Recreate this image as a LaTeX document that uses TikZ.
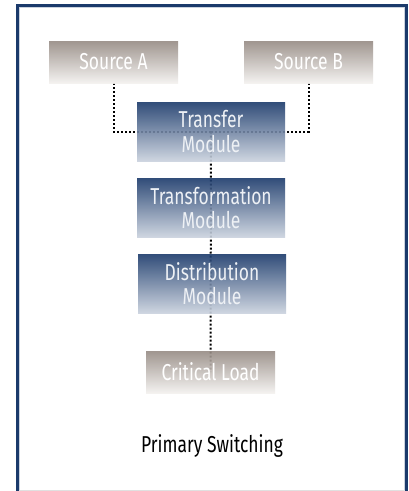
\documentclass[tikz,border=0pt]{standalone}
\usepackage{fontspec}
\setmainfont{Fira Sans}[FakeStretch=0.76]
\definecolor{navy}{HTML}{1B3A6B}
\definecolor{navylight}{HTML}{CAD2DE}
\definecolor{taupe}{HTML}{968B84}
\definecolor{taupelight}{HTML}{F3F1EF}
\definecolor{boxtext}{HTML}{EEF1F5}
\tikzset{
  bluebox/.style={rectangle, inner sep=0pt, minimum width=148pt, minimum height=59pt,
    top color=navy, bottom color=navylight, fill opacity=0.9, text opacity=1,
    text=boxtext, align=center, font=\fontsize{23}{24.5}\selectfont},
  graybox/.style={rectangle, inner sep=0pt, minimum width=129pt, minimum height=42pt,
    top color=taupe, bottom color=taupelight, fill opacity=0.9, text opacity=1,
    text=white, align=center, font=\fontsize{23}{24.5}\selectfont},
  link/.style={draw=black, line width=2pt, dash pattern=on 2pt off 2pt},
  frameline/.style={draw=navy, line width=3pt}
}
\begin{document}
\begin{tikzpicture}[x=1pt,y=-1pt]
\useasboundingbox (0,0) rectangle (409,491);
\fill[white] (0,0) rectangle (409,491);
% frame
\draw[frameline] (17.5,492) -- (17.5,5.5) -- (406.5,5.5) -- (406.5,492);
\draw[draw=navylight, line width=0.6pt] (19.3,492) -- (19.3,7.3) -- (404.7,7.3) -- (404.7,492);
\draw[draw=black!12, line width=0.8pt] (19,490.4) -- (405,490.4);
% node positions (centres)
\coordinate (pa) at (113.5,62);
\coordinate (pb) at (308.5,62);
\coordinate (pt) at (211,131.5);
\coordinate (pf) at (211,207.5);
\coordinate (pd) at (212,283.5);
\coordinate (pc) at (210.5,372);
\path (pa) ++(0,21) coordinate (sas);
\path (pb) ++(0,21) coordinate (sbs);
% connectors drawn first (behind the boxes)
\draw[link] (sas) |- (pt);
\draw[link] (sbs) |- (pt);
\draw[link] (pt) -- (pc);
% boxes
\node[graybox] (sa) at (pa) {Source A};
\node[graybox] (sb) at (pb) {Source B};
\node[bluebox] (tm) at (pt) {Transfer\\Module};
\node[bluebox] (tf) at (pf) {Transformation\\Module};
\node[bluebox] (dm) at (pd) {Distribution\\Module};
\node[graybox] (cl) at (pc) {Critical Load};
\node[font=\fontsize{23}{24.5}\selectfont, text=black] (ps) at (212,446) {Primary Switching};
\end{tikzpicture}
\end{document}
